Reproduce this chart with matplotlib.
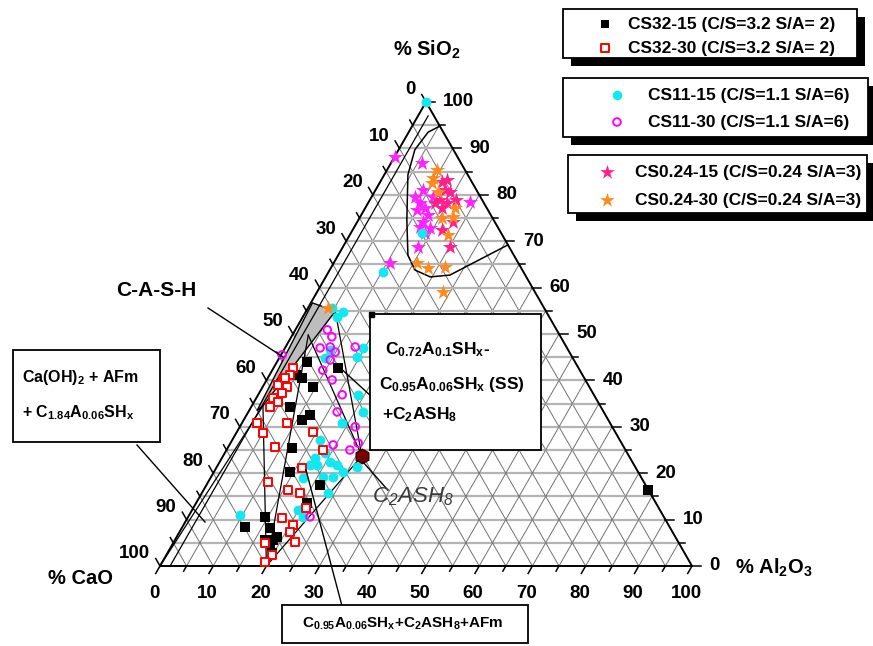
import numpy as np
import matplotlib.pyplot as plt
from matplotlib.patches import Rectangle, Polygon

plt.rcParams['font.family'] = ['Liberation Sans', 'DejaVu Sans']
plt.rcParams['mathtext.default'] = 'regular'

# ---------------------------------------------------------------
# Data: compositions as (Al2O3 %, SiO2 %), CaO is the remainder
# ---------------------------------------------------------------
cs32_15_al = [5.6, 12.2, 6.5, 5.2, 9.5, 7.3, 11.0, 12.0, 12.1, 14.3, 21.4, 20.8,
              14.4, 11.8, 16.6, 18.9, 18.4, 16.9, 18.2, 19.7, 83.6]
cs32_15_si = [44.0, 42.7, 40.5, 41.2, 38.6, 34.3, 31.5, 32.5, 25.4, 20.3, 17.5, 13.6,
              10.6, 8.4, 8.2, 6.3, 5.6, 5.6, 5.0, 2.8, 16.4]

cs32_30_al = [3.7, 3.8, 3.1, 2.7, 4.6, 4.3, 3.1, 4.6, 3.3, 3.6, 2.8, 5.1, 8.5, 8.8,
              16.2, 18.1, 14.4, 11.3, 15.9, 18.5, 21.1, 17.8, 20.6, 20.8, 22.8, 17.2,
              19.9, 19.3]
cs32_30_si = [42.7, 41.2, 40.1, 39.0, 38.6, 37.3, 36.2, 35.3, 40.5, 34.3, 30.8, 28.7,
              30.8, 25.6, 21.1, 25.0, 28.9, 18.1, 16.4, 15.7, 12.5, 10.3, 8.8, 7.3,
              5.2, 5.0, 2.4, 0.9]

cs11_15_al = [0.0, 4.5, 7.1, 6.5, 14.7, 14.5, 8.6, 8.7, 18.8, 21.6, 18.8, 16.5, 18.8,
              17.5, 17.3, 17.4, 18.6, 20.8, 22.4, 24.3, 21.0, 22.9, 23.8, 19.8, 21.6,
              9.5, 26.4, 10.2, 13.3]
cs11_15_si = [100.0, 55.6, 54.7, 53.7, 47.0, 45.0, 44.8, 46.6, 36.9, 33.2, 30.8, 27.2,
              24.4, 23.3, 21.8, 19.0, 21.8, 22.4, 21.8, 20.3, 19.2, 19.2, 15.7, 12.1,
              10.6, 11.0, 21.3, 63.4, 71.8]

cs11_30_al = [6.0, 7.6, 6.6, 8.4, 9.9, 13.1, 9.8, 9.5, 12.3, 15.8, 16.7, 21.7, 19.5,
              23.2, 24.0, 22.9, 0.2]
cs11_30_si = [50.9, 49.4, 47.0, 47.2, 46.1, 47.2, 44.4, 42.2, 40.1, 36.9, 33.2, 30.0,
              26.1, 25.0, 26.5, 10.6, 45.5]

cs024_15_al = [11.6, 13.1, 14.2, 13.2, 14.8, 14.4, 18.1, 16.8, 20.1, 12.6, 12.3, 16.1]
cs024_15_si = [82.8, 81.0, 80.6, 78.9, 78.2, 77.2, 74.1, 72.4, 68.8, 78.2, 83.2, 78.9]

# brighter magenta stars of the same sample
cs024_15m_al = [5.8, 0.2, 9.8, 11.2, 10.0, 12.6, 12.4, 12.4, 14.4, 13.9, 14.1, 19.1,
                10.6, 8.9, 11.6, 8.2]
cs024_15m_si = [86.9, 88.1, 78.2, 77.2, 76.7, 75.6, 74.1, 73.1, 72.8, 71.8, 68.8, 78.4,
                65.3, 81.0, 79.5, 79.5]

cs024_30_al = [9.5, 9.5, 9.9, 16.9, 17.5, 15.5, 18.5, 15.7, 18.3, 21.4, 23.7, 3.8, 12.0]
cs024_30_si = [85.3, 83.6, 82.5, 77.2, 75.2, 75.0, 71.3, 65.3, 64.2, 64.4, 59.1, 55.6, 80.6]

# reference phases (Al2O3, SiO2)
phases = {
    'CH': (0.0, 0.0),
    'AFm': (20.0, 0.0),
    'C2ASH8': (26.1, 23.7),
    'C1.84': (2.1, 34.5),
    'C0.95': (3.0, 49.75),
    'C0.72': (5.5, 54.9),
    'A_lo': (1.9, 0.0),
    'A_hi': (1.9, 97.0),
}
tie_lines = [('AFm', 'C1.84'), ('AFm', 'C0.95'), ('AFm', 'C2ASH8'),
             ('C2ASH8', 'C0.95'), ('C2ASH8', 'C0.72'), ('CH', 'C1.84'),
             ('A_lo', 'A_hi')]

# C-A-S-H domain (grey) and silica-rich domain (outline)
cash_al = [0.3, 5.5, 2.1, 1.5]
cash_si = [56.7, 54.9, 34.5, 33.5]
sio2_al = [5.2, 3.65, 3.05, 4.45, 9.1, 13.1, 16.0, 19.65, 23.15, 30.8]
sio2_si = [94.8, 93.5, 89.7, 84.3, 74.6, 67.0, 63.8, 62.3, 62.7, 69.2]

H = np.sqrt(3) / 2


def tern(al, si):
    al = np.asarray(al, float)
    si = np.asarray(si, float)
    return al + si / 2, si * H


# pixel layout of the original figure
X0, Y0, SX, SY = 160, 566, 5.32, 5.358


def px(x, y):
    return (x - X0) / SX, (Y0 - y) / SY


fig = plt.figure(figsize=(8.73, 6.46), dpi=100)
ax = fig.add_axes([0, 0, 1, 1])
ax.set_xlim(-X0 / SX, (873 - X0) / SX)
ax.set_ylim(-(646 - Y0) / SY, Y0 / SY)
ax.axis('off')

# ---------------- grid ----------------
for v in range(5, 100, 5):
    # constant SiO2
    x, y = tern([0, 100 - v], [v, v])
    ax.plot(x, y, color='#b4b4b4', lw=1.6, zorder=1)
    # constant Al2O3
    x, y = tern([v, v], [0, 100 - v])
    ax.plot(x, y, color='#727272', lw=0.7, zorder=1)
    # constant CaO
    x, y = tern([100 - v, 0], [0, 100 - v])
    ax.plot(x, y, color='#727272', lw=0.7, zorder=1)

# outline
x, y = tern([0, 100, 0, 0], [0, 0, 100, 0])
ax.plot(x, y, color='black', lw=1.4, zorder=3)

fs_num = 13.5
for v in range(0, 101, 5):
    L = 1.6 if v % 10 == 0 else 1.1
    # left edge (CaO)
    ex, ey = tern(0, 100 - v)
    ax.plot([ex, ex - L / 2], [ey, ey + L * H], color='black', lw=1.1, zorder=3)
    # right edge (SiO2)
    ex, ey = tern(100 - v, v)
    ax.plot([ex, ex + L], [ey, ey], color='black', lw=1.1, zorder=3)
    # bottom (Al2O3)
    ex, ey = tern(v, 0)
    ax.plot([ex, ex - L / 2], [ey, ey - L * H], color='black', lw=1.1, zorder=3)
    if v % 10 == 0:
        ex, ey = tern(0, 100 - v)
        ax.text(ex - 10 / SX, ey + 12 / SY, str(v), ha='right', va='center',
                fontsize=fs_num, fontweight='bold')
        ex, ey = tern(100 - v, v)
        ax.text(ex + 17 / SX, ey, str(v), ha='left', va='center',
                fontsize=fs_num, fontweight='bold')
        ex, ey = tern(v, 0)
        ax.text(ex - 6 / SX, -28 / SY, str(v), ha='center', va='center',
                fontsize=fs_num, fontweight='bold')

ax.text(*px(427, 50), '% SiO$_2$', ha='center', va='center', fontsize=14.5, fontweight='bold')
ax.text(*px(80, 578), '% CaO', ha='center', va='center', fontsize=14.5, fontweight='bold')
ax.text(*px(735, 568), '% Al$_2$O$_3$', ha='left', va='center', fontsize=14.5, fontweight='bold')

# ---------------- domains & tie lines ----------------
x, y = tern(cash_al, cash_si)
ax.add_patch(Polygon(np.column_stack([x, y]), closed=True, facecolor='#bdbdbd',
                     edgecolor='black', lw=1.0, zorder=2))
x, y = tern(sio2_al, sio2_si)
ax.plot(x, y, color='black', lw=1.1, zorder=2)

for p, q in tie_lines:
    x, y = tern([phases[p][0], phases[q][0]], [phases[p][1], phases[q][1]])
    ax.plot(x, y, color='black', lw=0.9, zorder=2)

# ---------------- data ----------------
x, y = tern(cs024_15m_al, cs024_15m_si)
ax.scatter(x, y, marker='*', s=130, color='#ff22ff', linewidths=0, zorder=4)
x, y = tern(cs024_15_al, cs024_15_si)
ax.scatter(x, y, marker='*', s=130, color='#ff1f8f', linewidths=0, zorder=5)
x, y = tern(cs024_30_al, cs024_30_si)
ax.scatter(x, y, marker='*', s=130, color='#ff8a1c', linewidths=0, zorder=5)

x, y = tern(cs11_15_al, cs11_15_si)
ax.scatter(x, y, marker='o', s=50, color='#12e8f0', linewidths=0, zorder=4)
x, y = tern(cs11_30_al, cs11_30_si)
ax.scatter(x, y, marker='o', s=30, facecolor='none', edgecolor='#ff00ff', linewidths=1.4, zorder=5)
x, y = tern(cs32_15_al, cs32_15_si)
ax.scatter(x, y, marker='s', s=42, color='black', linewidths=0, zorder=5)
x, y = tern(cs32_30_al, cs32_30_si)
ax.scatter(x, y, marker='s', s=34, facecolor='white', edgecolor='#ff0000', linewidths=1.4, zorder=5)

x, y = tern(*phases['C2ASH8'])
ax.scatter([x], [y], marker='h', s=110, color='#7a0000', edgecolor='#3a0000', zorder=6)

# ---------------- annotations ----------------
def line_px(p1, p2, lw=1.0):
    a, b = px(*p1), px(*p2)
    ax.plot([a[0], b[0]], [a[1], b[1]], color='black', lw=lw, zorder=6)


def box_px(x1, y1, x2, y2, shadow=None):
    if shadow:
        a = px(x1 + shadow, y2 + shadow)
        b = px(x2 + shadow, y1 + shadow)
        ax.add_patch(Rectangle(a, b[0] - a[0], b[1] - a[1], facecolor='black',
                               edgecolor='none', zorder=7, clip_on=False))
    a = px(x1, y2)
    b = px(x2, y1)
    ax.add_patch(Rectangle(a, b[0] - a[0], b[1] - a[1], facecolor='white',
                           edgecolor='black', lw=1.3, zorder=8, clip_on=False))


ax.text(*px(156, 290), 'C-A-S-H', ha='center', va='center', fontsize=15, fontweight='bold')
line_px((208, 308), (283, 357))

line_px((137, 445), (205, 522))
box_px(13, 350, 160, 442)
ax.text(*px(22, 377), 'Ca(OH)$_2$ + AFm', ha='left', va='center', fontsize=11.5,
        fontweight='bold', zorder=9)
ax.text(*px(22, 413), '+ C$_{1.84}$A$_{0.06}$SH$_x$', ha='left', va='center', fontsize=11.5,
        fontweight='bold', zorder=9)

line_px((372, 397), (337, 365))
box_px(370, 314, 541, 450)
ax.add_patch(Rectangle(px(369, 317), 5 / SX, 5 / SY, color='black', zorder=9))
ax.text(*px(385, 350), 'C$_{0.72}$A$_{0.1}$SH$_x$-', ha='left', va='center', fontsize=12.5,
        fontweight='bold', zorder=9)
ax.text(*px(379, 385), 'C$_{0.95}$A$_{0.06}$SH$_x$ (SS)', ha='left', va='center', fontsize=12.5,
        fontweight='bold', zorder=9)
ax.text(*px(382, 415), '+C$_2$ASH$_8$', ha='left', va='center', fontsize=12.5,
        fontweight='bold', zorder=9)

line_px((363, 462), (386, 488))
ax.text(*px(372, 497), 'C$_2$ASH$_8$', ha='left', va='center', fontsize=16,
        style='italic', color='#3a3a3a', zorder=9)

line_px((342, 606), (306, 470))
box_px(282, 605, 528, 643)
ax.text(*px(302, 624), 'C$_{0.95}$A$_{0.06}$SH$_x$+C$_2$ASH$_8$+AFm', ha='left', va='center',
        fontsize=11, fontweight='bold', zorder=9)

# ---------------- legend boxes ----------------
box_px(563, 9, 857, 58, shadow=8)
box_px(563, 78, 868, 137, shadow=8)
box_px(568, 155, 867, 213, shadow=8)

legend_rows = [
    (605, 24, 628, 'CS32-15 (C/S=3.2 S/A= 2)', dict(marker='s', s=36, color='black', linewidths=0)),
    (605, 48, 628, 'CS32-30 (C/S=3.2 S/A= 2)', dict(marker='s', s=32, facecolor='white',
                                                     edgecolor='#ff0000', linewidths=1.4)),
    (617, 95, 648, 'CS11-15 (C/S=1.1 S/A=6)', dict(marker='o', s=48, color='#12e8f0', linewidths=0)),
    (617, 122, 648, 'CS11-30 (C/S=1.1 S/A=6)', dict(marker='o', s=30, facecolor='none',
                                                    edgecolor='#ff00ff', linewidths=1.4)),
    (607, 172, 635, 'CS0.24-15 (C/S=0.24 S/A=3)', dict(marker='*', s=120, color='#ff1f8f', linewidths=0)),
    (607, 200, 635, 'CS0.24-30 (C/S=0.24 S/A=3)', dict(marker='*', s=120, color='#ff8a1c', linewidths=0)),
]
for mx, my, tx, label, kw in legend_rows:
    x, y = px(mx, my)
    ax.scatter([x], [y], zorder=10, clip_on=False, **kw)
    ax.text(*px(tx, my), label, ha='left', va='center', fontsize=12.5,
            fontweight='bold', zorder=10)

fig.savefig('out.png', dpi=100)
